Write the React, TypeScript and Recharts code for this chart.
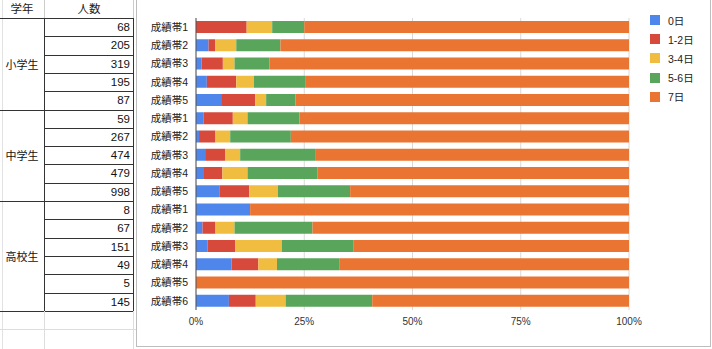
import React from 'react';
import { BarChart, Bar, XAxis, YAxis, CartesianGrid } from 'recharts';

const bandLabels = ['成績帯1', '成績帯2', '成績帯3', '成績帯4', '成績帯5', '成績帯1', '成績帯2', '成績帯3', '成績帯4', '成績帯5', '成績帯1', '成績帯2', '成績帯3', '成績帯4', '成績帯5', '成績帯6'];
const groupNames = ['小学生', '中学生', '高校生'];
const groupSizes = [5, 5, 6];
const counts = [68, 205, 319, 195, 87, 59, 267, 474, 479, 998, 8, 67, 151, 49, 5, 145];
const seriesNames = ['0日', '1-2日', '3-4日', '5-6日', '7日'];
const seriesColors = ['#4f86ec', '#d6493b', '#f1bd41', '#58a55b', '#ea7532'];
const days0 = [0, 2.9, 1.3, 2.5, 5.8, 1.7, 0.7, 2.1, 1.85, 5.5, 12.5, 1.5, 2.7, 8.2, 0, 7.6];
const days12 = [11.7, 1.5, 4.9, 6.8, 7.9, 6.8, 3.8, 4.6, 4.25, 6.8, 0, 3.0, 6.4, 6.2, 0, 6.2];
const days34 = [5.9, 4.9, 2.7, 4.1, 2.5, 3.4, 3.4, 3.5, 5.8, 6.6, 0, 4.4, 10.7, 4.3, 0, 6.9];
const days56 = [7.4, 10.2, 8.1, 11.8, 6.8, 12.0, 14.0, 17.3, 16.1, 16.7, 0, 18.0, 16.5, 14.5, 0, 20.0];
const days7 = [75, 80.5, 83, 74.8, 77, 76.1, 78.1, 72.5, 72, 64.4, 87.5, 73.1, 63.7, 66.8, 100, 59.3];
const xTicks = [0, 0.25, 0.5, 0.75, 1];

const seriesValues = [days0, days12, days34, days56, days7];
const keys = ['s0', 's1', 's2', 's3', 's4'];

const data = bandLabels.map((b, i) => {
  const row: any = { id: `r${i}`, band: b };
  keys.forEach((k, j) => { row[k] = seriesValues[j][i]; });
  return row;
});

const FONT = '"Liberation Sans", Arial, "Noto Sans CJK JP", sans-serif';
const TOP = 18;
const ROW = 18.3;

function Table() {
  const els: React.ReactNode[] = [];
  // header
  els.push(<div key="h1" style={{ position: 'absolute', left: 0, top: 0, width: 44, height: TOP, textAlign: 'center', lineHeight: `${TOP}px`, fontSize: 11.5, color: '#222' }}>学年</div>);
  els.push(<div key="h2" style={{ position: 'absolute', left: 44, top: 0, width: 90, height: TOP, textAlign: 'center', lineHeight: `${TOP}px`, fontSize: 11.5, color: '#222' }}>人数</div>);
  // light header gridlines
  els.push(<div key="hv1" style={{ position: 'absolute', left: 44, top: 0, width: 1, height: TOP, background: '#ccc' }} />);
  els.push(<div key="hv2" style={{ position: 'absolute', left: 133, top: 0, width: 1, height: TOP, background: '#ccc' }} />);
  els.push(<div key="lv" style={{ position: 'absolute', left: 2, top: 0, width: 1, height: 349, background: '#e2e2e2' }} />);
  // rows
  counts.forEach((c, i) => {
    const top = TOP + i * ROW;
    els.push(<div key={`c${i}`} style={{ position: 'absolute', left: 44, top, width: 86, height: ROW, textAlign: 'right', lineHeight: `${ROW + 1}px`, fontSize: 11.5, color: '#111' }}>{c}</div>);
    els.push(<div key={`l${i}`} style={{ position: 'absolute', left: 44, top: top + ROW, width: 90, height: 1, background: '#333' }} />);
  });
  // groups
  let start = 0;
  groupNames.forEach((g, gi) => {
    const top = TOP + start * ROW;
    const h = groupSizes[gi] * ROW;
    els.push(<div key={`g${gi}`} style={{ position: 'absolute', left: 0, top, width: 44, height: h, display: 'flex', alignItems: 'center', justifyContent: 'center', fontSize: 11, color: '#111' }}>{g}</div>);
    els.push(<div key={`gl${gi}`} style={{ position: 'absolute', left: 0, top: top + h, width: 134, height: 1, background: '#333' }} />);
    start += groupSizes[gi];
  });
  const bottom = TOP + counts.length * ROW;
  els.push(<div key="hb" style={{ position: 'absolute', left: 0, top: TOP, width: 134, height: 1, background: '#333' }} />);
  els.push(<div key="v1" style={{ position: 'absolute', left: 44, top: TOP, width: 1, height: bottom - TOP, background: '#333' }} />);
  els.push(<div key="v2" style={{ position: 'absolute', left: 133, top: TOP, width: 1, height: bottom - TOP, background: '#333' }} />);
  // empty spreadsheet rows below
  els.push(<div key="e1" style={{ position: 'absolute', left: 0, top: 329, width: 136, height: 1, background: '#ddd' }} />);
  els.push(<div key="ev1" style={{ position: 'absolute', left: 44, top: bottom, width: 1, height: 349 - bottom, background: '#ddd' }} />);
  els.push(<div key="ev2" style={{ position: 'absolute', left: 133, top: bottom, width: 1, height: 349 - bottom, background: '#ddd' }} />);
  return <>{els}</>;
}

export default function App() {
  return (
    <div style={{ position: 'fixed', left: 0, top: 0, width: 712, height: 349, background: '#fff', fontFamily: FONT, overflow: 'hidden' }}>
      <Table />
      <div style={{ position: 'absolute', left: 136, top: -2, width: 573, height: 348, borderLeft: '1px solid #bdbdbd', borderRight: '1px solid #bdbdbd', borderBottom: '1px solid #bdbdbd', background: '#fff' }} />
      <div style={{ position: 'absolute', left: 137, top: 0 }}>
        <BarChart layout="vertical" width={574} height={347} data={data} margin={{ top: 18, right: 82, bottom: 17, left: 0 }} stackOffset="expand" barCategoryGap={3}>
          <CartesianGrid horizontal={false} vertical stroke="#d9d9d9" />
          <XAxis type="number" domain={[0, 1]} ticks={xTicks} tickFormatter={(v: number) => `${Math.round(v * 100)}%`} axisLine={false} tickLine={false} tick={{ fontSize: 10, fill: '#333', fontFamily: FONT }} height={20} />
          <YAxis type="category" dataKey="id" width={59} tickLine={false} axisLine={{ stroke: '#555' }} interval={0} tickFormatter={(_v: any, i: number) => bandLabels[i]} tick={{ fontSize: 10.5, fill: '#222', fontFamily: FONT }} />
          {keys.map((k, j) => (
            <Bar key={k} dataKey={k} name={seriesNames[j]} stackId="a" fill={seriesColors[j]} isAnimationActive={false} />
          ))}
        </BarChart>
      </div>
      {seriesNames.map((n, j) => (
        <div key={n} style={{ position: 'absolute', left: 650, top: 14 + j * 19.2, height: 12, display: 'flex', alignItems: 'center', fontSize: 10.5, color: '#222' }}>
          <div style={{ width: 10, height: 10, background: seriesColors[j], marginRight: 8 }} />
          <span>{n}</span>
        </div>
      ))}
    </div>
  );
}
